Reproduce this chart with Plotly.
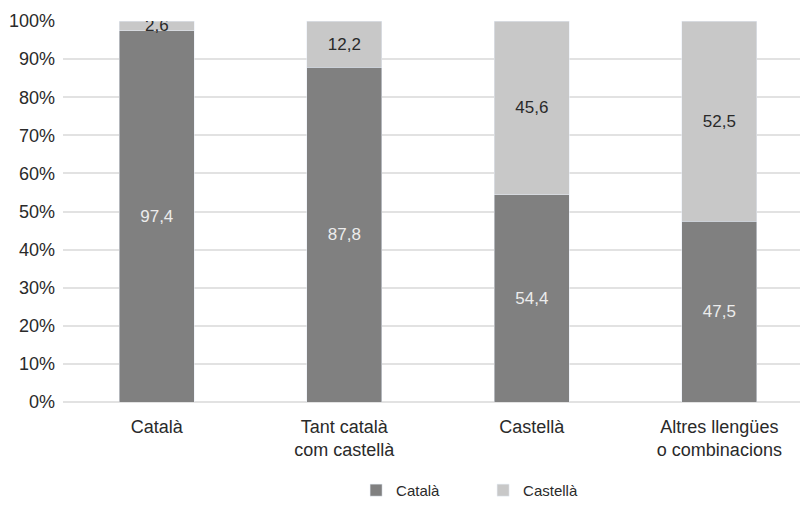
import plotly.graph_objects as go

categories = ["Català", "Tant català<br>com castellà", "Castellà", "Altres llengües<br>o combinacions"]
catala = [97.4, 87.8, 54.4, 47.5]
castella = [2.6, 12.2, 45.6, 52.5]
y_ticks = [0, 10, 20, 30, 40, 50, 60, 70, 80, 90, 100]
y_tick_labels = [f"{v}%" for v in y_ticks]

FONT = "Liberation Sans"
TXT = "#2a2a2a"

fig = go.Figure()
fig.add_trace(go.Bar(
    name="Català", x=categories, y=catala, marker_color="#808080",
    width=0.4, texttemplate="%{y:.1f}", textposition="inside",
    insidetextanchor="middle", constraintext="none",
    textfont=dict(color="#ececec", size=17, family=FONT),
))
fig.add_trace(go.Bar(
    name="Castellà", x=categories, y=castella, marker_color="#c8c8c8",
    width=0.4, texttemplate="%{y:.1f}", textposition="inside",
    insidetextanchor="middle", constraintext="none",
    textfont=dict(color=TXT, size=17, family=FONT),
))

fig.update_layout(
    barmode="stack",
    width=802, height=506,
    separators=", ",
    plot_bgcolor="white", paper_bgcolor="white",
    margin=dict(l=63, r=2, t=21, b=104, autoexpand=False),
    font=dict(family=FONT, size=17, color=TXT),
    showlegend=True,
    legend=dict(orientation="h", traceorder="normal", x=0.57, xanchor="center",
                y=-0.232, yanchor="middle",
                font=dict(size=15, color=TXT), itemwidth=30,
                entrywidth=82),
    xaxis=dict(range=[-0.5, 3.43], showgrid=False, showline=False, ticks="",
               automargin=False, ticklabelstandoff=12,
               tickfont=dict(size=18, color=TXT)),
    yaxis=dict(range=[0, 100], tickvals=y_ticks, ticktext=y_tick_labels, showgrid=True,
               automargin=False,
               gridcolor="#e2e2e2", gridwidth=1.5, zeroline=True, zerolinecolor="#e2e2e2",
               zerolinewidth=1.5, tickfont=dict(size=18, color=TXT), ticks="",
               ticklabelstandoff=7),
)

fig.write_html("out.html", config={"displayModeBar": False},
               post_script="document.body.style.margin='0';")
